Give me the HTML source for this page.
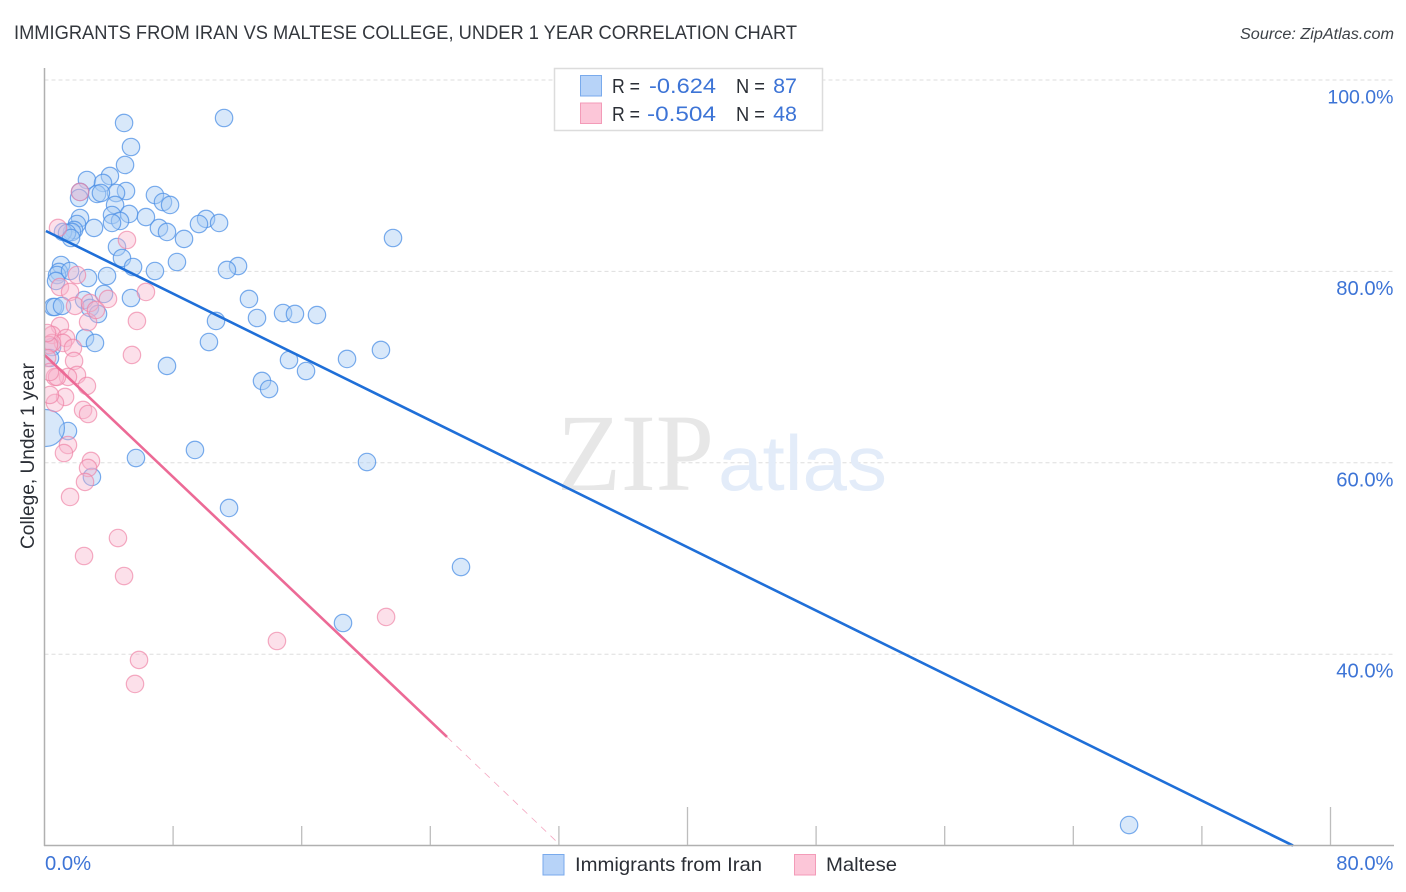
<!DOCTYPE html>
<html lang="en">
<head>
<meta charset="utf-8">
<title>Immigrants from Iran vs Maltese College, Under 1 Year Correlation Chart</title>
<style>
html,body{margin:0;padding:0;background:#fff;width:1406px;height:892px;overflow:hidden}
svg{display:block;font-family:"Liberation Sans",sans-serif}
</style>
</head>
<body>
<svg id="chart" width="1406" height="892" viewBox="0 0 1406 892" xmlns="http://www.w3.org/2000/svg">
  <defs>
    <clipPath id="plot-clip"><rect x="44.5" y="60" width="1350" height="786"/></clipPath>
  </defs>
  <rect x="0" y="0" width="1406" height="892" fill="#ffffff"/>
  <text x="14" y="39" font-size="19.5" fill="#33373d" textLength="783" lengthAdjust="spacingAndGlyphs">IMMIGRANTS FROM IRAN VS MALTESE COLLEGE, UNDER 1 YEAR CORRELATION CHART</text>
  <text x="1394" y="39" font-size="15.5" font-style="italic" fill="#3d4248" text-anchor="end" textLength="154" lengthAdjust="spacingAndGlyphs">Source: ZipAtlas.com</text>
  <g id="grid"></g>
  <g>
    <text x="557" y="490" font-family="'Liberation Serif',serif" font-size="110" fill="#e7e7e7" textLength="157" lengthAdjust="spacingAndGlyphs">ZIP</text>
    <text x="718" y="490" font-size="78" fill="#e3ecf9" textLength="169" lengthAdjust="spacingAndGlyphs">atlas</text>
  </g>
  <g id="iran-points" clip-path="url(#plot-clip)"></g>
  <g id="maltese-points" clip-path="url(#plot-clip)"></g>
  <g id="trends"></g>
  <g id="axes"></g>
  <text transform="translate(34,456) rotate(-90)" font-size="19" fill="#2b2f36" text-anchor="middle" textLength="186" lengthAdjust="spacingAndGlyphs">College, Under 1 year</text>

  <g>
    <rect x="554.5" y="68.5" width="268" height="62" fill="#ffffff" stroke="#dcdcdc" stroke-width="1.5"/>
    <rect x="580.5" y="75.5" width="21" height="20.5" fill="#b7d3f8" stroke="#79aaec" stroke-width="1"/>
    <rect x="580.5" y="103" width="21" height="20.5" fill="#fcc6d8" stroke="#f39bb8" stroke-width="1"/>
    <text x="612" y="93" font-size="20" fill="#2b2f36" textLength="28" lengthAdjust="spacingAndGlyphs">R =</text>
    <text x="716" y="93" font-size="21.5" fill="#3d74d6" text-anchor="end" textLength="67" lengthAdjust="spacingAndGlyphs">-0.624</text>
    <text x="736" y="93" font-size="20" fill="#2b2f36" textLength="29" lengthAdjust="spacingAndGlyphs">N =</text>
    <text x="797" y="93" font-size="21.5" fill="#3d74d6" text-anchor="end">87</text>
    <text x="612" y="121" font-size="20" fill="#2b2f36" textLength="28" lengthAdjust="spacingAndGlyphs">R =</text>
    <text x="716" y="121" font-size="21.5" fill="#3d74d6" text-anchor="end" textLength="69" lengthAdjust="spacingAndGlyphs">-0.504</text>
    <text x="736" y="121" font-size="20" fill="#2b2f36" textLength="29" lengthAdjust="spacingAndGlyphs">N =</text>
    <text x="797" y="121" font-size="21.5" fill="#3d74d6" text-anchor="end">48</text>
  </g>

  <g>
    <rect x="543" y="854.5" width="21" height="20.5" fill="#b7d3f8" stroke="#79aaec" stroke-width="1"/>
    <text x="575" y="871" font-size="19.5" fill="#2b2f36" textLength="187" lengthAdjust="spacingAndGlyphs">Immigrants from Iran</text>
    <rect x="794.5" y="854.5" width="21" height="20.5" fill="#fcc6d8" stroke="#f39bb8" stroke-width="1"/>
    <text x="826" y="871" font-size="19.5" fill="#2b2f36" textLength="71" lengthAdjust="spacingAndGlyphs">Maltese</text>
  </g>
</svg>
<script>
const iranX = [4.95,11.17,5.38,5.01,4.07,2.64,3.64,2.21,2.15,5.07,4.45,3.27,3.51,6.87,7.37,7.81,4.39,2.21,5.26,4.20,6.31,4.70,4.20,10.05,9.61,10.86,3.08,2.02,1.84,1.71,1.15,1.40,1.65,7.12,7.62,8.68,21.68,4.51,4.82,5.51,8.24,6.87,12.04,11.35,1.03,0.90,0.78,0.72,1.59,2.71,3.89,3.70,5.38,2.46,12.72,0.53,0.65,1.09,2.83,3.33,10.67,13.22,14.84,15.58,16.95,2.52,3.14,10.23,20.93,0.47,0.34,18.82,15.21,7.62,16.27,13.53,13.97,1.46,0.09,9.36,5.69,2.95,20.06,11.48,25.91,18.57,67.47];
const iranY = [95.51,96.03,93.00,91.12,89.97,89.55,89.24,88.30,87.67,88.40,88.19,88.09,88.19,87.98,87.25,86.94,86.94,85.58,86.00,85.89,85.68,85.27,85.06,85.48,84.95,85.06,84.54,84.95,84.33,84.12,84.12,84.01,83.49,84.54,84.12,83.39,83.49,82.55,81.40,80.46,80.98,80.04,80.56,80.15,80.67,79.94,79.62,79.00,80.04,79.31,79.52,77.64,77.22,77.01,77.12,76.28,76.28,76.39,76.18,75.55,74.82,75.13,75.65,75.55,75.44,73.04,72.52,72.62,71.79,72.10,70.95,70.85,70.74,70.12,69.59,68.55,67.71,63.32,63.64,61.34,60.50,58.52,60.08,55.28,49.11,43.26,22.15];
const malteseX = [2.21,0.84,5.13,2.02,0.96,1.59,1.90,6.31,3.95,2.83,2.71,5.75,5.44,0.96,0.47,1.34,1.15,0.47,1.77,1.84,2.02,1.46,2.64,0.65,0.78,1.28,0.65,0.34,2.40,2.71,1.46,1.21,2.89,2.71,2.52,1.59,4.57,2.46,4.95,5.88,5.63,14.46,21.25,0.28,0.16,0.34,3.20,0.16];
const malteseY = [88.30,84.54,83.28,79.62,78.37,77.85,76.39,77.85,77.12,76.70,74.71,74.82,71.27,74.30,73.36,73.04,72.52,72.52,72.00,70.64,69.18,68.97,68.03,68.97,68.97,66.88,66.25,67.09,65.52,65.10,61.86,61.02,60.19,59.46,58.00,56.43,52.14,50.26,48.17,39.40,36.89,41.38,43.89,72.31,70.95,69.49,75.97,73.56];
const iranTrendX = [0.09,77.67];
const iranTrendY = [84.22,20.00];
const malteseTrendX = [0.00,25.04];
const malteseTrendY = [71.27,31.35];
const malteseDashX = [25.04,31.95];
const malteseDashY = [31.35,20.27];
const yTicks = [100,80,60,40];
const yTickLabels = ["100.0%","80.0%","60.0%","40.0%"];
const xTicks = [8,16,24,32,40,48,56,64,72,80];
const xEndTicks = [0,80];
const xEndLabels = ["0.0%","80.0%"];
const longXTicks = [40,80];
const largeIranPoint = 78;

const NS = 'http://www.w3.org/2000/svg';
const xScale = v => 44.5 + v * 16.075;
const yScale = v => 80 + (100 - v) * 9.57;
const make = (tag, parent, attrs) => {
  const el = document.createElementNS(NS, tag);
  for (const k in attrs) el.setAttribute(k, attrs[k]);
  parent.appendChild(el);
  return el;
};
const gridG = document.getElementById('grid');
const axesG = document.getElementById('axes');
const iranG = document.getElementById('iran-points');
const malteseG = document.getElementById('maltese-points');
const trendG = document.getElementById('trends');

yTicks.forEach((t, i) => {
  const g = make('line', gridG, {x1: 44.5, x2: 1393, y1: yScale(t), y2: yScale(t), stroke: '#dedede', 'stroke-width': 1, 'stroke-dasharray': '4 3'});
  
  
  const lab = make('text', axesG, {x: 1393.5, y: yScale(t) + 23.5, 'font-size': yTickLabels[i].length > 5 ? 19.5 : 20.2, fill: '#3d74d6', 'text-anchor': 'end'});
  lab.textContent = yTickLabels[i];
  
  
});

iranX.forEach((x, i) => {
  const c = make('circle', iranG, {cx: xScale(x), cy: yScale(iranY[i]), r: i === largeIranPoint ? 18.5 : 8.7, fill: '#a9cbf5', 'fill-opacity': 0.45, stroke: '#4d90e6', 'stroke-opacity': 0.75, 'stroke-width': 1.2});
  
  
});
malteseX.forEach((x, i) => {
  const c = make('circle', malteseG, {cx: xScale(x), cy: yScale(malteseY[i]), r: 8.7, fill: '#f9b6cc', 'fill-opacity': 0.42, stroke: '#ee7fa3', 'stroke-opacity': 0.65, 'stroke-width': 1.2});
  
  
});

const iranTrend = make('line', trendG, {x1: xScale(iranTrendX[0]), y1: yScale(iranTrendY[0]), x2: xScale(iranTrendX[1]), y2: yScale(iranTrendY[1]), stroke: '#1f6fd8', 'stroke-width': 2.6});


const malteseTrend = make('line', trendG, {x1: xScale(malteseTrendX[0]), y1: yScale(malteseTrendY[0]), x2: xScale(malteseTrendX[1]), y2: yScale(malteseTrendY[1]), stroke: '#ec6a96', 'stroke-width': 2.6});


const malteseDash = make('line', trendG, {x1: xScale(malteseDashX[0]), y1: yScale(malteseDashY[0]), x2: xScale(malteseDashX[1]), y2: yScale(malteseDashY[1]), stroke: '#ec6a96', 'stroke-width': 0.8, 'stroke-dasharray': '7 6', 'stroke-opacity': 0.6});



const yAxis = make('line', axesG, {x1: 44.5, x2: 44.5, y1: 68, y2: 846, stroke: '#b0b0b0', 'stroke-width': 1.5});


const xAxis = make('line', axesG, {x1: 44, x2: 1394, y1: 845.5, y2: 845.5, stroke: '#b0b0b0', 'stroke-width': 1.5});


xTicks.forEach(t => {
  const top = longXTicks.includes(t) ? 807 : 826;
  const tick = make('line', axesG, {x1: xScale(t), x2: xScale(t), y1: top, y2: 845, stroke: '#bdbdbd', 'stroke-width': 1.3});
  
  
});
xEndTicks.forEach((t, i) => {
  const lab = make('text', axesG, {x: i === 0 ? 45 : 1393.5, y: 870, 'font-size': 20.2, fill: '#3d74d6', 'text-anchor': i === 0 ? 'start' : 'end'});
  lab.textContent = xEndLabels[i];
  
  
});
</script>
</body>
</html>
